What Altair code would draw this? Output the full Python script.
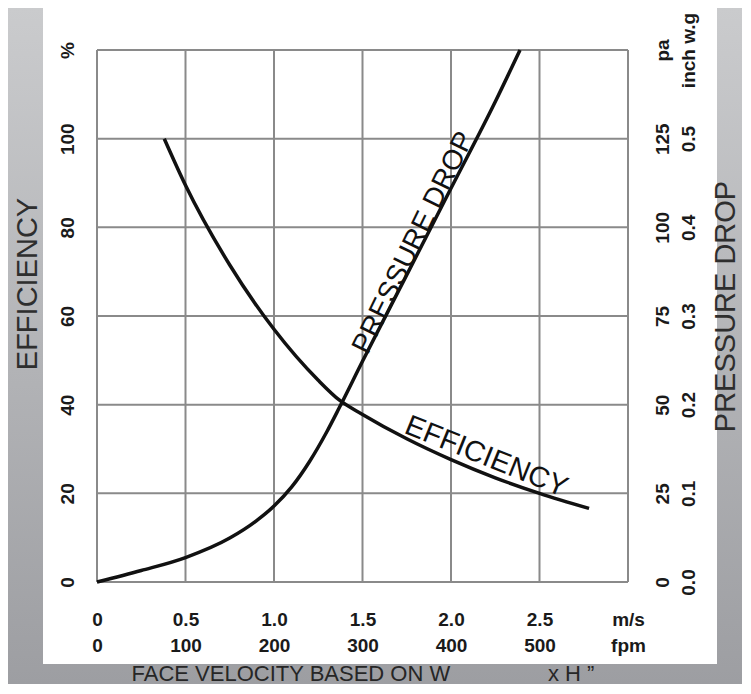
import altair as alt
import pandas as pd

# ---------------- data ----------------
eff_v = [0.38, 0.5, 0.75, 1.0, 1.25, 1.37, 1.5, 1.75, 2.0, 2.25, 2.5, 2.78]
eff_pct = [100, 89.5, 71.5, 57, 45.5, 41, 37.8, 32.3, 27.6, 23.5, 20, 16.6]

pd_v = [0, 0.25, 0.5, 0.75, 0.9, 1.0, 1.1, 1.2, 1.3, 1.37, 1.5, 1.75, 2.0, 2.25, 2.39]
pd_pa = [0, 3.25, 6.9, 12.4, 17.25, 21.4, 26.8, 33.9, 42.5, 49.25, 62.25, 86.6, 111, 135.4, 150]

x_ticks = [0, 0.5, 1.0, 1.5, 2.0, 2.5, 3.0]
ms_labels = ["0", "0.5", "1.0", "1.5", "2.0", "2.5", "m/s"]
fpm_labels = ["0", "100", "200", "300", "400", "500", "fpm"]

eff_ticks = [0, 20, 40, 60, 80, 100, 120]
eff_labels = ["0", "20", "40", "60", "80", "100", "%"]

pa_ticks = [0, 25, 50, 75, 100, 125, 150]
pa_labels = ["0", "25", "50", "75", "100", "125", "pa"]
inch_labels = ["0.0", "0.1", "0.2", "0.3", "0.4", "0.5", "inch w.g"]

curve_label_names = ["PRESSURE DROP", "EFFICIENCY"]
curve_label_v = [1.79, 2.20]
curve_label_pct = [76.5, 28.3]

x_title = "FACE VELOCITY BASED ON  W\u00a0\u00a0\u00a0\u00a0\u00a0\u00a0\u00a0\u00a0\u00a0\u00a0\u00a0\u00a0\u00a0\u00a0\u00a0\u00a0x H \u201d"

# ---------------- helpers ----------------
def label_expr(ticks, *lists):
    parts = []
    for i, t in enumerate(ticks):
        vals = [l[i] for l in lists]
        if len(vals) == 1:
            lab = "'%s'" % vals[0]
        else:
            lab = "[" + ",".join("'%s'" % v for v in vals) + "]"
        parts.append("datum.value == %s ? %s : " % (t, lab))
    return "".join(parts) + "''"

W, H = 531, 532
FONT = "Liberation Sans"
GRID = "#8a8a8a"

xscale = alt.Scale(domain=[0, 3], nice=False, zero=False)
yscale = alt.Scale(domain=[0, 120], nice=False)
pscale = alt.Scale(domain=[0, 150], nice=False)

eff_df = pd.DataFrame({"v": eff_v, "pct": eff_pct})
pd_df = pd.DataFrame({"v": pd_v, "pa": pd_pa})
one = pd.DataFrame({"a": [0]})

gradient = {
    "gradient": "linear", "x1": 0, "y1": 0, "x2": 0, "y2": 1,
    "stops": [{"offset": 0, "color": "#cacbcd"}, {"offset": 1, "color": "#9d9ea2"}],
}

bg = alt.Chart(one).mark_rect(fill=gradient).encode(
    x=alt.value(-89), x2=alt.value(645), y=alt.value(-42), y2=alt.value(634)
)
panel = alt.Chart(one).mark_rect(fill="white").encode(
    x=alt.value(-54), x2=alt.value(620), y=alt.value(-42), y2=alt.value(614)
)

vgrid = alt.Chart(pd.DataFrame({"v": x_ticks})).mark_rule(color=GRID, strokeWidth=2).encode(
    x=alt.X("v:Q", scale=xscale, axis=None)
)
hgrid = alt.Chart(pd.DataFrame({"pct": eff_ticks})).mark_rule(color=GRID, strokeWidth=2).encode(
    y=alt.Y("pct:Q", scale=yscale, axis=None)
)

x_axis = alt.Axis(
    values=x_ticks, labelExpr=label_expr(x_ticks, ms_labels, fpm_labels), orient="bottom",
    grid=False, ticks=False, domain=False, labelFont=FONT, labelFontWeight="bold",
    labelFontSize=19, labelColor="#1a1a1a", labelPadding=28, labelLineHeight=26,
    labelBaseline="top", labelAlign="center", labelFlush=False, labelOverlap=False,
    labelBound=False, title=x_title, titleFont=FONT, titleFontSize=22,
    titleFontWeight="normal", titleColor="#262626", titleX=265.5, titleY=91,
    titleAlign="center", titleBaseline="middle", zindex=1,
)
y_axis = alt.Axis(
    values=eff_ticks, labelExpr=label_expr(eff_ticks, eff_labels), orient="left",
    grid=False, ticks=False, domain=False, labelFont=FONT, labelFontWeight="bold",
    labelFontSize=19, labelColor="#1a1a1a", labelAngle=270, labelAlign="center",
    labelBaseline="alphabetic", labelPadding=24, labelFlush=False, labelOverlap=False,
    labelBound=False, title="EFFICIENCY", titleFont=FONT, titleFontSize=29,
    titleFontWeight="normal", titleColor="#2e2e2e", titleAngle=270, titleX=-69.5,
    titleY=233.5, titleAlign="center", titleBaseline="middle", zindex=1,
)
p_axis = alt.Axis(
    values=pa_ticks, labelExpr=label_expr(pa_ticks, pa_labels, inch_labels), orient="right",
    grid=False, ticks=False, domain=False, labelFont=FONT, labelFontWeight="bold",
    labelFontSize=19, labelColor="#1a1a1a", labelAngle=270, labelAlign="center",
    labelBaseline="top", labelPadding=25, labelLineHeight=26, labelFlush=False,
    labelOverlap=False, labelBound=False, title="PRESSURE DROP", titleFont=FONT,
    titleFontSize=29, titleFontWeight="normal", titleColor="#2e2e2e", titleAngle=270,
    titleX=97, titleY=256, titleAlign="center", titleBaseline="middle", zindex=1,
)

eff_line = alt.Chart(eff_df).mark_line(color="#111111", strokeWidth=3.5, interpolate="monotone").encode(
    x=alt.X("v:Q", scale=xscale, axis=x_axis),
    y=alt.Y("pct:Q", scale=yscale, axis=y_axis),
)
pd_line = alt.Chart(pd_df).mark_line(color="#111111", strokeWidth=3.5, interpolate="monotone").encode(
    x=alt.X("v:Q", scale=xscale, axis=None),
    y=alt.Y("pa:Q", scale=pscale, axis=p_axis),
)

lab_df = pd.DataFrame({"name": curve_label_names, "v": curve_label_v, "pct": curve_label_pct})
pd_text = alt.Chart(lab_df).transform_filter(alt.datum.name == "PRESSURE DROP").mark_text(
    font=FONT, fontSize=28, color="#111111", angle=296, align="center", baseline="middle"
).encode(x=alt.X("v:Q", scale=xscale, axis=None), y=alt.Y("pct:Q", scale=yscale, axis=None), text="name:N")
eff_text = alt.Chart(lab_df).transform_filter(alt.datum.name == "EFFICIENCY").mark_text(
    font=FONT, fontSize=29, color="#111111", angle=22, align="center", baseline="middle"
).encode(x=alt.X("v:Q", scale=xscale, axis=None), y=alt.Y("pct:Q", scale=yscale, axis=None), text="name:N")

chart = alt.layer(
    bg, panel, vgrid, hgrid, eff_line, pd_line, pd_text, eff_text
).resolve_scale(y="independent").resolve_axis(x="independent", y="independent").properties(
    width=W, height=H, autosize="none",
    padding={"left": 89, "top": 42, "right": 114, "bottom": 102},
).configure_view(stroke=None)

chart.save("out.html", embed_options={"renderer": "svg", "actions": False})
